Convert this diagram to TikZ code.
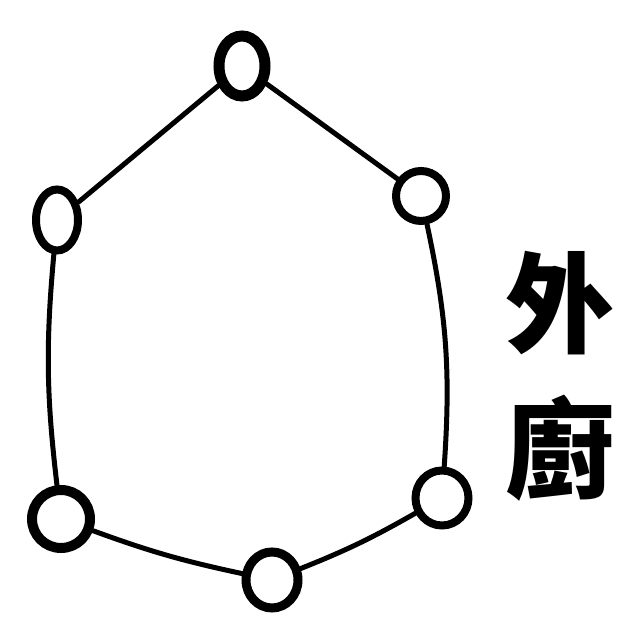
\documentclass[tikz,border=0pt]{standalone}
\usepackage{fontspec}
\newfontfamily\cjk[BoldFont={Noto Sans CJK TC Black}]{Noto Sans CJK TC}
\usetikzlibrary{shapes.geometric}

\begin{document}
\begin{tikzpicture}[
    spot/.style={draw, ellipse, line width=0.18cm, inner sep=0pt},
    link/.style={line width=0.1cm, line cap=round},
    word/.style={font=\cjk\bfseries\fontsize{62}{68}\selectfont}
  ]
  \useasboundingbox (0,0) rectangle (12.64,12.36);

  \node[spot, minimum width=0.92cm, minimum height=1.2cm, line width=0.22cm] (top) at (4.84,11.04) {};
  \node[spot, minimum width=1.0cm, minimum height=1.0cm, line width=0.16cm] (upright) at (8.42,8.44) {};
  \node[spot, minimum width=0.84cm, minimum height=1.22cm, line width=0.16cm] (upleft) at (1.14,7.96) {};
  \node[spot, minimum width=1.16cm, minimum height=1.16cm, line width=0.2cm] (lowleft) at (1.22,1.98) {};
  \node[spot, minimum width=1.04cm, minimum height=1.12cm] (bottom) at (5.44,0.76) {};
  \node[spot, minimum width=1.06cm, minimum height=1.1cm, line width=0.16cm] (lowright) at (8.84,2.4) {};

  \draw[link] (top) -- (upright);
  \draw[link] (top) -- (upleft);
  \draw[link] (upleft) to[bend right=6] (lowleft);
  \draw[link] (lowleft) to[bend right=4] (bottom);
  \draw[link] (bottom) to[bend right=4] (lowright);
  \draw[link] (lowright) to[bend right=8] (upright);

  \node[word] (wai) at (11.2,6.3) {外};
  \node[word] (chu) at (11.2,3.4) {廚};
\end{tikzpicture}
\end{document}
